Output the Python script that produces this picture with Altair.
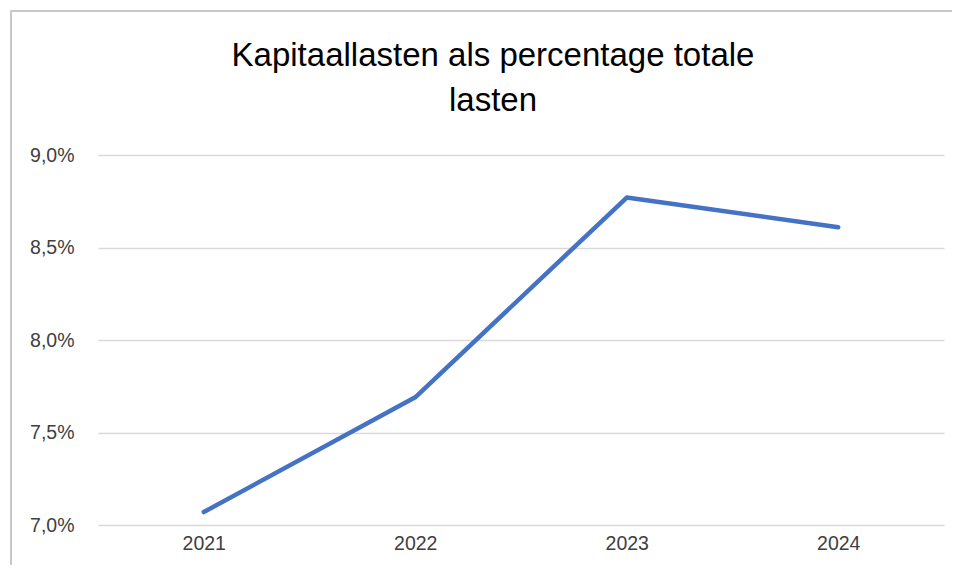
import altair as alt
import pandas as pd

years = ["2021", "2022", "2023", "2024"]
values = [7.07, 7.69, 8.77, 8.61]
title_lines = ["Kapitaallasten als percentage totale", "lasten"]
y_ticks = [7.0, 7.5, 8.0, 8.5, 9.0]

df = pd.DataFrame({"jaar": years, "pct": values})

FONT = "Liberation Sans"

line = alt.Chart(df).mark_line(
    color="#4472C4", strokeWidth=4.5, strokeCap="round", strokeJoin="round"
).encode(
    x=alt.X("jaar:N", sort=years,
            scale=alt.Scale(type="point", padding=0.5),
            axis=alt.Axis(title=None, labelAngle=0, ticks=False, domain=False,
                          grid=False, labelPadding=9, labelFontSize=19.5,
                          labelColor="#404040", labelFont=FONT)),
    y=alt.Y("pct:Q",
            scale=alt.Scale(domain=[7.0, 9.0], nice=False, zero=False),
            axis=alt.Axis(title=None, values=y_ticks, ticks=False, domain=False,
                          grid=True, gridColor="#d9d9d9", gridWidth=1.3,
                          labelPadding=24, labelFontSize=19.5, labelColor="#404040",
                          labelFont=FONT,
                          labelExpr="replace(format(datum.value, '.1f'), '.', ',') + '%'")),
)

border = alt.Chart(df).mark_rect(
    fill=None, stroke="#c8c8c8", strokeWidth=2
).encode(
    x=alt.value(-87), x2=alt.value(1000), y=alt.value(-144), y2=alt.value(700)
).transform_filter("datum.jaar == '2021'")

chart = alt.layer(border, line).properties(
    width=846,
    height=370,
    background="white",
    autosize=alt.AutoSizeParams(type="none"),
    padding={"left": 90, "top": 147, "right": 8, "bottom": 40},
    title=alt.TitleParams(
        text=title_lines, anchor="middle", frame="group", fontSize=33,
        fontWeight="normal", font=FONT, color="#000000", lineHeight=45,
        offset=-108, dx=-28,
    ),
).configure_view(strokeWidth=0, stroke="transparent")

chart.save("out.html", embed_options={"renderer": "svg", "actions": False})
